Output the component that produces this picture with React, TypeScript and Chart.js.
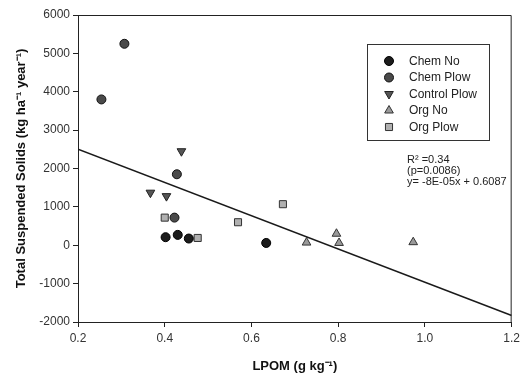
import React, { useEffect, useRef } from "react";
import { Chart, registerables } from "chart.js";
import { drawPoint } from "chart.js/helpers";

Chart.register(...registerables);

const chemNoX = [0.402, 0.430, 0.4555, 0.634];
const chemNoY = [210, 270, 175, 60];
const chemPlowX = [0.254, 0.307, 0.428, 0.4225];
const chemPlowY = [3800, 5250, 1850, 720];
const controlPlowX = [0.367, 0.404, 0.4385];
const controlPlowY = [1370, 1280, 2450];
const orgNoX = [0.727, 0.796, 0.802, 0.973];
const orgNoY = [70, 300, 60, 80];
const orgPlowX = [0.400, 0.476, 0.569, 0.6725];
const orgPlowY = [720, 190, 600, 1070];

const fitX = [0.2, 1.2];
const fitY = [2500, -1830];

const annotationLines = ["R\u00B2 =0.34", "(p=0.0086)", "y= -8E-05x + 0.6087"];

const FONT = "'Liberation Sans', Arial, sans-serif";

const toPts = (xs: number[], ys: number[]) => xs.map((x, i) => ({ x, y: ys[i] }));

const framePlugin = {
  id: "frameAndLegend",
  afterDraw(chart: any) {
    const { ctx, chartArea } = chart;
    ctx.save();
    ctx.strokeStyle = "#222";
    ctx.lineWidth = 1;
    ctx.beginPath();
    ctx.moveTo(chartArea.left, chartArea.top + 0.5);
    ctx.lineTo(chartArea.right - 0.5, chartArea.top + 0.5);
    ctx.lineTo(chartArea.right - 0.5, chartArea.bottom);
    ctx.stroke();

    // legend box
    const bx = 367, by = 44.5, bw = 122, bh = 96;
    ctx.strokeStyle = "#333";
    ctx.strokeRect(bx + 0.5, by, bw, bh);
    ctx.font = `12px ${FONT}`;
    ctx.textBaseline = "middle";
    ctx.textAlign = "left";
    const items = chart.data.datasets.filter((d: any) => d.showInLegend);
    items.forEach((d: any, i: number) => {
      const y = 61 + i * 16.5;
      ctx.fillStyle = d.backgroundColor;
      ctx.strokeStyle = d.borderColor;
      ctx.lineWidth = d.borderWidth;
      const opts = { pointStyle: d.pointStyle, rotation: d.pointRotation || 0, radius: d.pointRadius, borderWidth: d.borderWidth };
      drawPoint(ctx, opts as any, 389, y);
      ctx.fillStyle = "#222";
      ctx.fillText(d.label, 409, y + 0.5);
    });

    // annotation
    ctx.fillStyle = "#222";
    ctx.font = `11px ${FONT}`;
    annotationLines.forEach((t, i) => {
      ctx.fillText(t, 407, 160 + i * 11);
    });
    ctx.restore();
  },
};

export default function App() {
  const ref = useRef<HTMLCanvasElement>(null);
  useEffect(() => {
    document.body.style.margin = "0";
    const canvas = ref.current!;
    const chart = new Chart(canvas, {
      type: "scatter",
      data: {
        datasets: [
          {
            type: "line",
            label: "fit",
            data: toPts(fitX, fitY),
            borderColor: "#1a1a1a",
            borderWidth: 1.5,
            pointRadius: 0,
            showLine: true,
            fill: false,
          } as any,
          {
            label: "Chem No",
            data: toPts(chemNoX, chemNoY),
            pointStyle: "circle",
            pointRadius: 4.5,
            backgroundColor: "#1c1c1c",
            borderColor: "#000",
            borderWidth: 1,
            showInLegend: true,
          },
          {
            label: "Chem Plow",
            data: toPts(chemPlowX, chemPlowY),
            pointStyle: "circle",
            pointRadius: 4.5,
            backgroundColor: "#4a4a4a",
            borderColor: "#111",
            borderWidth: 1,
            showInLegend: true,
          },
          {
            label: "Control Plow",
            data: toPts(controlPlowX, controlPlowY),
            pointStyle: "triangle",
            pointRotation: 180,
            pointRadius: 5,
            backgroundColor: "#555",
            borderColor: "#222",
            borderWidth: 1,
            showInLegend: true,
          },
          {
            label: "Org No",
            data: toPts(orgNoX, orgNoY),
            pointStyle: "triangle",
            pointRadius: 5,
            backgroundColor: "#9a9a9a",
            borderColor: "#333",
            borderWidth: 1,
            showInLegend: true,
          },
          {
            label: "Org Plow",
            data: toPts(orgPlowX, orgPlowY),
            pointStyle: "rect",
            pointRadius: 5,
            backgroundColor: "#b0b0b0",
            borderColor: "#333",
            borderWidth: 1,
            showInLegend: true,
          },
        ] as any,
      },
      options: {
        animation: false,
        responsive: false,
        layout: { padding: { top: 15, right: 9, left: 0, bottom: 0 } },
        plugins: { legend: { display: false }, tooltip: { enabled: false } },
        scales: {
          x: {
            type: "linear",
            min: 0.2,
            max: 1.2,
            afterFit: (s: any) => { s.height = 54; },
            ticks: {
              stepSize: 0.2,
              color: "#333",
              font: { family: FONT, size: 12 },
              padding: 4,
              callback: (v: any) => Number(v).toFixed(1),
            },
            grid: { drawOnChartArea: false, drawTicks: true, tickLength: 5, color: "#222" },
            border: { display: true, color: "#222", width: 1 },
            title: {
              display: true,
              text: "LPOM (g kg\u207B\u00B9)",
              color: "#111",
              font: { family: FONT, size: 13, weight: "bold" },
              padding: { top: 0, bottom: 2 },
            },
          },
          y: {
            type: "linear",
            min: -2000,
            max: 6000,
            afterFit: (s: any) => { s.width = 78; },
            ticks: {
              stepSize: 1000,
              color: "#333",
              font: { family: FONT, size: 12 },
              padding: 3,
              callback: (v: any) => String(Math.round(Number(v))),
            },
            grid: { drawOnChartArea: false, drawTicks: true, tickLength: 5, color: "#222" },
            border: { display: true, color: "#222", width: 1 },
            title: {
              display: true,
              text: "Total Suspended Solids (kg ha\u207B\u00B9 year\u207B\u00B9)",
              color: "#111",
              font: { family: FONT, size: 13, weight: "bold" },
              padding: { top: 14, bottom: 0 },
            },
          },
        },
      },
      plugins: [framePlugin],
    });
    return () => chart.destroy();
  }, []);
  return <canvas ref={ref} width={524} height={376} style={{ display: "block" }} />;
}
